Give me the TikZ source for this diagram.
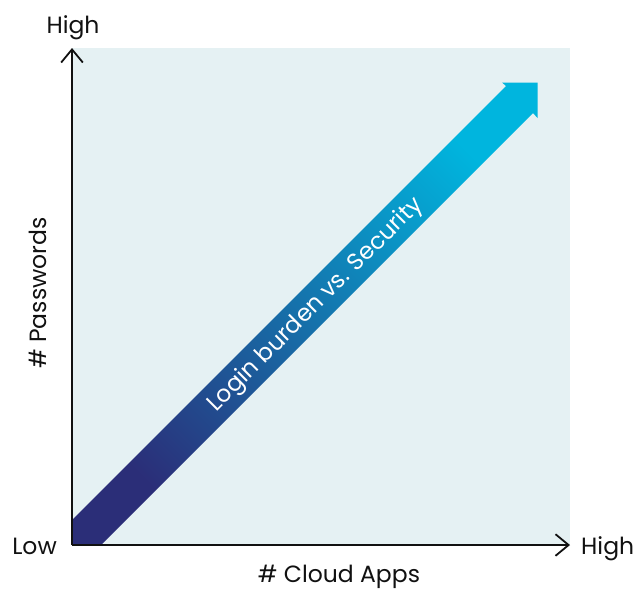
\documentclass[tikz,border=0pt]{standalone}
\usepackage{fontspec}
\setmainfont{Poppins}
\usepackage{tikz}
\usetikzlibrary{arrows.meta,positioning,calc}
\definecolor{PlotBack}{HTML}{E5F1F3}
\definecolor{BandNavy}{HTML}{2B2E78}
\definecolor{BandBlue}{HTML}{0C6AA6}
\definecolor{BandCyan}{HTML}{00B5DE}
\definecolor{AxisDark}{HTML}{111111}
\tikzset{
  axisline/.style={-{Straight Barb[length=4.6mm,width=7.6mm,line width=1.8pt]},line width=1.8pt,draw=AxisDark},
  axislabel/.style={font=\fontsize{23.5}{26}\selectfont,text=AxisDark,inner sep=0pt},
  bandtext/.style={font=\fontsize{23.5}{26}\selectfont,text=white,rotate=45,inner sep=0pt},
  bandfill/.style={bottom color=BandNavy,middle color=BandBlue,top color=BandCyan,shading angle=-45}
}
\begin{document}
\begin{tikzpicture}[x=1pt,y=-1pt]
\useasboundingbox (0,0) rectangle (637,589);
% plot area
\fill[PlotBack] (72,48) rectangle (570,545);
\coordinate (origin) at (72,545);
\coordinate (ytop) at (72,48);
\coordinate (xend) at (570,545);
% trend band with head
\shade[bandfill] (72,520) -- (origin) -- (101,545) -- (533,113) -- (537.5,118)
  -- (537.5,82.5) -- (502,82.5) -- (506,86) -- cycle;
\node[bandtext] (trend) at (316,305) {Login burden vs. Security};
% axes
\draw[axisline] (origin) -- (ytop);
\draw[axisline] (origin) -- (xend);
\node[axislabel,anchor=base] (yhigh) at (73,33) {High};
\node[axislabel,anchor=base east] (low) at (57,554) {Low};
\node[axislabel,anchor=base west] (xhigh) at (581,554) {High};
\node[axislabel,anchor=base] (xtitle) at (339,582) {\# Cloud Apps};
\node[axislabel,anchor=base,rotate=90] (ytitle) at (46,293) {\# Passwords};
\end{tikzpicture}
\end{document}
